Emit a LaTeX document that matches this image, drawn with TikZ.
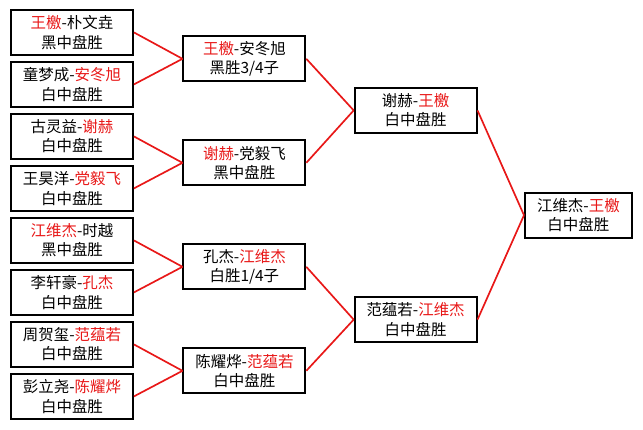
\documentclass[tikz,border=0pt]{standalone}
\usepackage{fontspec}
\setmainfont{Noto Sans CJK SC}
\usepackage{xcolor}
\definecolor{winred}{RGB}{232,24,24}
\newcommand{\win}[1]{\textcolor{winred}{#1}}

\begin{document}
\begin{tikzpicture}[
    game/.style={draw,line width=1.3pt,minimum width=3.05cm,minimum height=1.125cm,align=center,inner sep=0pt,font=\fontsize{11}{13.8}\selectfont},
    final/.style={game,minimum width=2.675cm},
    link/.style={winred,line width=1.2pt}
]
    \useasboundingbox (0,0) rectangle (16.075,-10.725);
    % First round
    \node[game] (q1) at (1.8,-0.81) {\win{王檄}-朴文垚\\黑中盘胜};
    \node[game] (q2) at (1.8,-2.11) {童梦成-\win{安冬旭}\\白中盘胜};
    \node[game] (q3) at (1.8,-3.41) {古灵益-\win{谢赫}\\白中盘胜};
    \node[game] (q4) at (1.8,-4.71) {王昊洋-\win{党毅飞}\\白中盘胜};
    \node[game] (q5) at (1.8,-6.01) {\win{江维杰}-时越\\黑中盘胜};
    \node[game] (q6) at (1.8,-7.31) {李轩豪-\win{孔杰}\\白中盘胜};
    \node[game] (q7) at (1.8,-8.61) {周贺玺-\win{范蕴若}\\白中盘胜};
    \node[game] (q8) at (1.8,-9.91) {彭立尧-\win{陈耀烨}\\白中盘胜};
    % Second round
    \node[game] (s1) at (6.11,-1.47) {\win{王檄}-安冬旭\\黑胜3/4子};
    \node[game] (s2) at (6.11,-4.07) {\win{谢赫}-党毅飞\\黑中盘胜};
    \node[game] (s3) at (6.11,-6.67) {孔杰-\win{江维杰}\\白胜1/4子};
    \node[game] (s4) at (6.11,-9.27) {陈耀烨-\win{范蕴若}\\白中盘胜};
    % Semi-finals
    \node[game] (f1) at (10.39,-2.76) {谢赫-\win{王檄}\\白中盘胜};
    \node[game] (f2) at (10.39,-7.99) {范蕴若-\win{江维杰}\\白中盘胜};
    % Final
    \node[final] (champ) at (14.46,-5.38) {江维杰-\win{王檄}\\白中盘胜};
    % Links
    \draw[link] (q1.east) -- (s1.west);
    \draw[link] (q2.east) -- (s1.west);
    \draw[link] (q3.east) -- (s2.west);
    \draw[link] (q4.east) -- (s2.west);
    \draw[link] (q5.east) -- (s3.west);
    \draw[link] (q6.east) -- (s3.west);
    \draw[link] (q7.east) -- (s4.west);
    \draw[link] (q8.east) -- (s4.west);
    \draw[link] (s1.east) -- (f1.west);
    \draw[link] (s2.east) -- (f1.west);
    \draw[link] (s3.east) -- (f2.west);
    \draw[link] (s4.east) -- (f2.west);
    \draw[link] (f1.east) -- (champ.west);
    \draw[link] (f2.east) -- (champ.west);
\end{tikzpicture}
\end{document}
